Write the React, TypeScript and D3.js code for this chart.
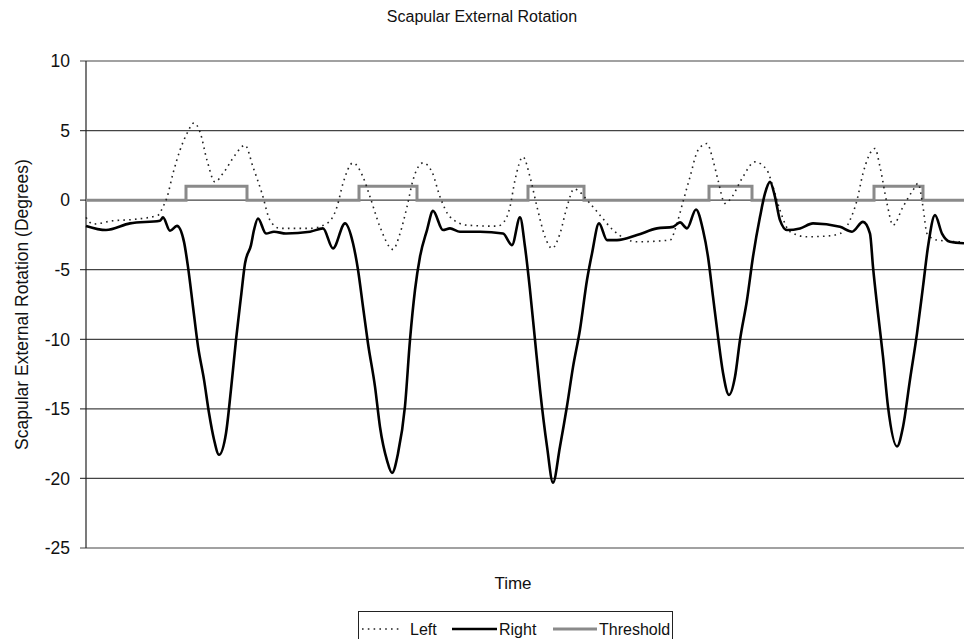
import * as d3 from 'd3';

// time axis has no ticks; values are sample positions
const rightTime = [0, 20, 44, 74, 77, 84, 91, 98, 102, 107, 112, 118, 123, 128, 133, 140, 145, 150, 155, 159, 165, 168, 172, 180, 188, 200, 224, 237, 247, 259, 267, 272, 277, 282, 289, 294, 301, 306, 312, 319, 324, 329, 334, 341, 347, 357, 364, 374, 394, 417, 426, 434, 439, 444, 449, 454, 461, 467, 474, 481, 487, 494, 501, 506, 513, 521, 531, 551, 571, 587, 594, 601, 610, 617, 622, 627, 632, 637, 643, 649, 654, 661, 667, 674, 679, 684, 689, 694, 701, 714, 727, 754, 766, 777, 784, 787, 792, 797, 802, 811, 817, 824, 831, 837, 842, 849, 856, 864, 878];
const rightValues = [-1.85, -2.15, -1.67, -1.48, -1.24, -2.2, -1.85, -3.0, -4.8, -7.66, -10.5, -12.9, -15.3, -17.2, -18.3, -16.75, -13.6, -10.05, -6.94, -4.55, -3.23, -2.15, -1.32, -2.4, -2.27, -2.4, -2.27, -2.03, -3.47, -1.67, -3.1, -5.0, -7.66, -10.3, -13.4, -16.3, -18.7, -19.6, -18.2, -14.8, -10.05, -6.46, -4.07, -2.15, -0.77, -2.15, -2.03, -2.27, -2.27, -2.4, -3.23, -1.24, -3.35, -6.46, -10.05, -13.6, -17.7, -20.3, -17.7, -14.8, -12.0, -9.3, -5.74, -3.83, -1.67, -2.87, -2.87, -2.51, -2.03, -1.92, -1.6, -2.03, -0.67, -2.15, -4.07, -6.94, -9.81, -12.4, -14.0, -12.7, -10.05, -7.18, -4.07, -1.2, 0.48, 1.31, 0.24, -1.44, -2.15, -2.03, -1.67, -1.92, -2.27, -1.56, -2.4, -4.79, -8.13, -11.25, -14.84, -17.7, -16.3, -12.9, -9.57, -6.22, -3.35, -1.08, -2.4, -2.99, -3.1];

const leftTime = [0, 7, 27, 47, 72, 77, 81, 87, 94, 101, 108, 114, 121, 129, 137, 149, 159, 167, 176, 184, 194, 224, 241, 251, 257, 267, 277, 284, 294, 307, 314, 321, 327, 337, 346, 354, 364, 381, 411, 418, 424, 429, 437, 444, 451, 459, 466, 474, 481, 488, 504, 514, 527, 551, 584, 591, 597, 604, 612, 621, 627, 632, 639, 646, 656, 669, 681, 687, 694, 704, 721, 741, 754, 764, 771, 777, 789, 794, 801, 807, 817, 827, 832, 837, 841, 851, 878];
const leftValues = [-1.24, -1.72, -1.48, -1.39, -1.08, -0.48, 0.19, 1.92, 3.59, 4.79, 5.55, 4.9, 2.87, 1.31, 1.92, 3.23, 3.95, 2.39, 0.48, -1.44, -2.03, -2.03, -1.67, -0.48, 1.2, 2.68, 1.67, 0.24, -1.92, -3.54, -2.4, -0.48, 1.44, 2.68, 2.03, 0.24, -1.2, -1.8, -1.87, -1.56, -0.48, 1.44, 3.11, 1.67, -0.48, -2.63, -3.47, -2.4, -0.48, 0.8, -0.24, -1.08, -2.15, -2.99, -2.87, -1.67, -0.12, 1.67, 3.59, 4.07, 2.87, 1.44, -0.24, 0.24, 1.56, 2.75, 2.15, 0.96, -0.72, -2.27, -2.63, -2.58, -2.4, -1.44, 0, 1.92, 3.71, 2.39, -0.24, -1.8, -0.48, 0.72, 1.2, -0.48, -2.4, -2.87, -3.0];

const thresholdTime = [0, 100, 161, 273, 331, 442, 498, 623, 666, 788, 837, 880];
const thresholdValues = [0, 1, 0, 1, 0, 1, 0, 1, 0, 1, 0, 0];

const yTicks = [10, 5, 0, -5, -10, -15, -20, -25];
const legendItems = ['Left', 'Right', 'Threshold'];

const W = 964;
const H = 639;
const FONT = '"Liberation Sans", Arial, sans-serif';

export default function App() {
  const x = d3.scaleLinear().domain([0, 880]).range([86, 966]);
  const y = d3.scaleLinear().domain([-25, 10]).range([548, 61]);

  const line = d3
    .line<[number, number]>()
    .x(d => x(d[0]))
    .y(d => y(d[1]))
    .curve(d3.curveMonotoneX);

  const stepLine = d3
    .line<[number, number]>()
    .x(d => x(d[0]))
    .y(d => y(d[1]))
    .curve(d3.curveStepAfter);

  const right = rightTime.map((t, i) => [t, rightValues[i]] as [number, number]);
  const left = leftTime.map((t, i) => [t, leftValues[i]] as [number, number]);
  const threshold = thresholdTime.map((t, i) => [t, thresholdValues[i]] as [number, number]);

  const legendX = [362, 452, 553];
  const legendTextX = [410, 499, 599];

  return (
    <div style={{ position: 'absolute', left: 0, top: 0 }}>
      <svg width={W} height={H} style={{ display: 'block', background: '#fff' }} fontFamily={FONT}>
        <text x={482} y={22} textAnchor="middle" fontSize={16} fill="#111">
          Scapular External Rotation
        </text>

        {/* gridlines + ticks */}
        {yTicks.map(t => (
          <g key={t}>
            <line x1={80} x2={W} y1={y(t)} y2={y(t)} stroke="#444" strokeWidth={1.2} />
            <text x={70} y={y(t)} dy="0.36em" textAnchor="end" fontSize={17.5} fill="#111">
              {t}
            </text>
          </g>
        ))}
        <line x1={86} x2={86} y1={y(10)} y2={y(-25)} stroke="#222" strokeWidth={1.2} />

        <path d={stepLine(threshold) ?? ''} fill="none" stroke="#8a8a8a" strokeWidth={3} />
        <path d={line(left) ?? ''} fill="none" stroke="#222" strokeWidth={1.6} strokeDasharray="1.6,4.2" />
        <path d={line(right) ?? ''} fill="none" stroke="#000" strokeWidth={2.6} strokeLinejoin="round" />

        <text
          transform={`translate(28,${(y(10) + y(-25)) / 2}) rotate(-90)`}
          textAnchor="middle"
          fontSize={17.5}
          fill="#111"
        >
          Scapular External Rotation (Degrees)
        </text>
        <text x={513} y={589} textAnchor="middle" fontSize={17} fill="#111">
          Time
        </text>

        {/* legend */}
        <rect x={358.5} y={611.5} width={314} height={40} fill="#fff" stroke="#222" strokeWidth={1} />
        <line x1={legendX[0]} x2={legendX[0] + 40} y1={629} y2={629} stroke="#222" strokeWidth={1.6} strokeDasharray="1.6,4.2" />
        <line x1={legendX[1]} x2={legendX[1] + 45} y1={629} y2={629} stroke="#000" strokeWidth={2.6} />
        <line x1={legendX[2]} x2={legendX[2] + 44} y1={629} y2={629} stroke="#8a8a8a" strokeWidth={3} />
        {legendItems.map((name, i) => (
          <text key={name} x={legendTextX[i]} y={635} fontSize={16} fill="#111">
            {name}
          </text>
        ))}
      </svg>
    </div>
  );
}
